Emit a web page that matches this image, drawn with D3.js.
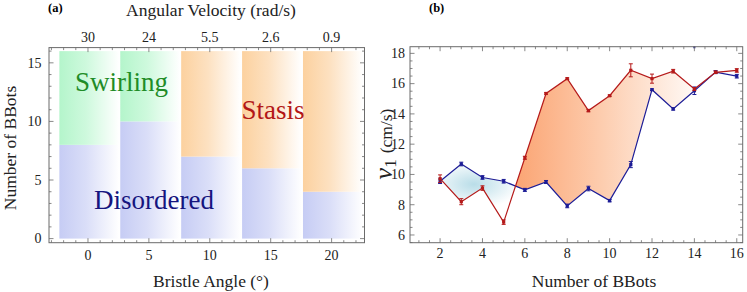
<!DOCTYPE html>
<meta charset="utf-8">
<style>
body { margin: 0; background: #fff; }
svg, svg text { font-family: "Liberation Serif", "Times New Roman", Times, "DejaVu Serif", serif; }
.frame { fill: none; stroke: #6b6b6b; stroke-width: 1; }
.tick { stroke: #6b6b6b; stroke-width: 0.8; }
.ticklab { font-size: 14px; fill: #222; }
.axlab { font-size: 17.5px; fill: #222; }
</style>
<body>
<script src="https://d3js.org/d3.v7.min.js"></script>
<script>

// ---- panel (a) data ----
var bristleAngles = [0, 5, 10, 15, 20];
var angVelLabels = ["30", "24", "5.5", "2.6", "0.9"];
var disorderTop = [8, 10, 7, 6, 4];      // disordered phase up to
var upperPhase = ["swirl", "swirl", "stasis", "stasis", "stasis"];
var phaseMax = 16;

// ---- panel (b) data ----
var nBots = [2, 3, 4, 5, 6, 7, 8, 9, 10, 11, 12, 13, 14, 15, 16];
var redV   = [9.72, 8.2, 9.1, 6.85, 11.1, 15.35, 16.33, 14.22, 15.2, 16.88, 16.33, 16.82, 15.64, 16.75, 16.87];
var redErr = [0.25, 0.2, 0.15, 0.15, 0.1, 0.05, 0.05, 0.08, 0.05, 0.43, 0.3, 0.12, 0.1, 0.08, 0.12];
var blueV   = [9.55, 10.69, 9.8, 9.55, 8.98, 9.5, 7.92, 9.07, 8.27, 10.65, 15.6, 14.33, 15.53, 16.76, 16.49];
var blueErr = [0.15, 0.12, 0.12, 0.12, 0.1, 0.1, 0.12, 0.15, 0.08, 0.2, 0.05, 0.08, 0.25, 0.1, 0.12];
var blueStray = [{n: 14, v: 18.4}];

var svg = d3.select("body").append("svg")
    .attr("width", 747)
    .attr("height", 292)
    .attr("font-family", "Liberation Serif, Times New Roman, DejaVu Serif, serif");
var defs = svg.append("defs");

function fade(id, col) {
  var g = defs.append("linearGradient").attr("id", id)
      .attr("x1", 0).attr("x2", 1).attr("y1", 0).attr("y2", 0);
  g.append("stop").attr("offset", 0).attr("stop-color", col);
  g.append("stop").attr("offset", 0.45).attr("stop-color", d3.interpolateRgb(col, "#fff")(0.35));
  g.append("stop").attr("offset", 1).attr("stop-color", "#fff");
}
fade("gSwirl", "#b4f5cb");
fade("gDis", "#c6ccf4");
fade("gStasis", "#fcd19f");

// draw ticks on a side of a frame
function ticks(g, scale, vals, len, side, other) {
  vals.forEach(function(v) {
    var p = scale(v);
    var l = g.append("line").attr("class", "tick");
    if (side == "bottom") l.attr("x1", p).attr("x2", p).attr("y1", other).attr("y2", other - len);
    if (side == "top") l.attr("x1", p).attr("x2", p).attr("y1", other).attr("y2", other + len);
    if (side == "left") l.attr("y1", p).attr("y2", p).attr("x1", other).attr("x2", other + len);
    if (side == "right") l.attr("y1", p).attr("y2", p).attr("x1", other).attr("x2", other - len);
  });
}

// ================= panel (a) =================
var xa = d3.scaleLinear().domain([-3.2, 22.7]).range([49, 364.5]);
var ya = d3.scaleLinear().domain([-0.35, 16.3]).range([242.7, 47.6]);
var ga = svg.append("g");

bristleAngles.forEach(function(a, i) {
  var x0 = xa(a - 2.35), x1 = xa(a + 2.55);
  ga.append("rect").attr("x", x0).attr("width", x1 - x0)
    .attr("y", ya(disorderTop[i])).attr("height", ya(0) - ya(disorderTop[i]))
    .attr("fill", "url(#gDis)");
  ga.append("rect").attr("x", x0).attr("width", x1 - x0)
    .attr("y", ya(phaseMax)).attr("height", ya(disorderTop[i]) - ya(phaseMax))
    .attr("fill", upperPhase[i] == "swirl" ? "url(#gSwirl)" : "url(#gStasis)");
});

ga.append("text").attr("x", 75).attr("y", 90.5).style("font-size", "27px")
  .attr("fill", "#1f8c27").text("Swirling");
ga.append("text").attr("x", 241.5).attr("y", 119.3).style("font-size", "27px")
  .attr("fill", "#b31717").text("Stasis");
ga.append("text").attr("x", 94).attr("y", 209.3).style("font-size", "27px")
  .attr("fill", "#15157f").text("Disordered");

ga.append("rect").attr("class", "frame")
  .attr("x", xa.range()[0]).attr("y", ya.range()[1])
  .attr("width", xa.range()[1] - xa.range()[0]).attr("height", ya.range()[0] - ya.range()[1]);

var xaMinor = d3.range(-3, 23, 1).filter(function(v) { return v % 5 != 0; });
var yaMinor = d3.range(0, 17, 1).filter(function(v) { return v % 5 != 0; });
ticks(ga, xa, bristleAngles, 4.5, "bottom", ya.range()[0]);
ticks(ga, xa, xaMinor, 2.5, "bottom", ya.range()[0]);
ticks(ga, xa, bristleAngles, 4.5, "top", ya.range()[1]);
ticks(ga, xa, xaMinor, 2.5, "top", ya.range()[1]);
ticks(ga, ya, [0, 5, 10, 15], 4.5, "left", xa.range()[0]);
ticks(ga, ya, yaMinor, 2.5, "left", xa.range()[0]);
ticks(ga, ya, [0, 5, 10, 15], 4.5, "right", xa.range()[1]);
ticks(ga, ya, yaMinor, 2.5, "right", xa.range()[1]);

ga.selectAll(".xlab").data(bristleAngles).enter().append("text")
  .attr("class", "ticklab").attr("text-anchor", "middle")
  .attr("x", function(d) { return xa(d); }).attr("y", 260)
  .text(function(d) { return d; });
ga.selectAll(".toplab").data(bristleAngles).enter().append("text")
  .attr("class", "ticklab").attr("text-anchor", "middle")
  .attr("x", function(d) { return xa(d); }).attr("y", 41.5)
  .text(function(d, i) { return angVelLabels[i]; });
ga.selectAll(".ylab").data([0, 5, 10, 15]).enter().append("text")
  .attr("class", "ticklab").attr("text-anchor", "end")
  .attr("x", 41.5).attr("y", function(d) { return ya(d) + 4.8; })
  .text(function(d) { return d; });

ga.append("text").attr("class", "axlab").attr("text-anchor", "middle")
  .attr("x", 211).attr("y", 15.6).text("Angular Velocity (rad/s)");
ga.append("text").attr("class", "axlab").attr("text-anchor", "middle")
  .attr("x", 211).attr("y", 287).text("Bristle Angle (°)");
ga.append("text").attr("class", "axlab").attr("text-anchor", "middle")
  .attr("transform", "translate(15.8,148) rotate(-90)").text("Number of BBots");
ga.append("text").attr("x", 48).attr("y", 12).style("font-size", "12.5px")
  .style("font-weight", "bold").text("(a)");

// ================= panel (b) =================
var xb = d3.scaleLinear().domain([0.58, 16.28]).range([410, 742.7]);
var yb = d3.scaleLinear().domain([5.49, 18.44]).range([242.7, 46.7]);
var gb = svg.append("g");

var og = defs.append("linearGradient").attr("id", "gOrange")
    .attr("gradientUnits", "userSpaceOnUse")
    .attr("x1", xb(5.6)).attr("x2", xb(14.6)).attr("y1", 0).attr("y2", 0);
og.append("stop").attr("offset", 0).attr("stop-color", "#fba574");
og.append("stop").attr("offset", 0.45).attr("stop-color", "#fdcdaf");
og.append("stop").attr("offset", 1).attr("stop-color", "#ffffff");

var bg = defs.append("radialGradient").attr("id", "gTeal")
    .attr("gradientUnits", "userSpaceOnUse")
    .attr("cx", xb(3.6)).attr("cy", yb(9.35)).attr("r", 48)
    .attr("gradientTransform", "translate(" + xb(3.6) + "," + yb(9.35) + ") scale(1,0.5) translate(" + (-xb(3.6)) + "," + (-yb(9.35)) + ")");
bg.append("stop").attr("offset", 0).attr("stop-color", "#b9dde8");
bg.append("stop").attr("offset", 1).attr("stop-color", "#ffffff");

var pts = nBots.map(function(n, i) { return {n: n, r: redV[i], b: blueV[i]}; });

// clip regions above / below the blue curve
defs.append("clipPath").attr("id", "aboveBlue").append("path")
  .attr("d", d3.area().x(function(d) { return xb(d.n); })
    .y0(function(d) { return yb(d.b); }).y1(0)(pts));
defs.append("clipPath").attr("id", "belowBlue").append("path")
  .attr("d", d3.area().x(function(d) { return xb(d.n); })
    .y0(function(d) { return yb(d.b); }).y1(300)(pts));

var between = d3.area().x(function(d) { return xb(d.n); })
    .y0(function(d) { return yb(d.b); })
    .y1(function(d) { return yb(d.r); });
gb.append("path").attr("d", between(pts)).attr("fill", "url(#gOrange)")
  .attr("clip-path", "url(#aboveBlue)");
gb.append("path").attr("d", between(pts)).attr("fill", "url(#gTeal)")
  .attr("clip-path", "url(#belowBlue)");

function series(vals, errs, col) {
  var line = d3.line().x(function(d, i) { return xb(nBots[i]); })
      .y(function(d) { return yb(d); });
  gb.append("path").attr("d", line(vals)).attr("fill", "none")
    .attr("stroke", col).attr("stroke-width", 1.2);
  vals.forEach(function(v, i) {
    var x = xb(nBots[i]), lo = yb(v - errs[i]), hi = yb(v + errs[i]);
    gb.append("line").attr("x1", x).attr("x2", x).attr("y1", lo).attr("y2", hi)
      .attr("stroke", col).attr("stroke-width", 1);
    [lo, hi].forEach(function(yy) {
      gb.append("line").attr("x1", x - 2).attr("x2", x + 2).attr("y1", yy).attr("y2", yy)
        .attr("stroke", col).attr("stroke-width", 1);
    });
    gb.append("rect").attr("x", x - 1.6).attr("y", yb(v) - 1.6)
      .attr("width", 3.2).attr("height", 3.2).attr("fill", col);
  });
}
series(blueV, blueErr, "#1c1c96");
series(redV, redErr, "#b51a1a");
blueStray.forEach(function(d) {
  gb.append("rect").attr("x", xb(d.n) - 1).attr("y", yb(d.v) - 1)
    .attr("width", 2).attr("height", 2).attr("fill", "#1c1c96");
});

gb.append("rect").attr("class", "frame")
  .attr("x", xb.range()[0]).attr("y", yb.range()[1])
  .attr("width", xb.range()[1] - xb.range()[0]).attr("height", yb.range()[0] - yb.range()[1]);

var xbMajor = d3.range(2, 17, 2);
var xbMinor = d3.range(1, 16.3, 0.5).filter(function(v) { return v % 2 != 0; });
var ybMajor = d3.range(6, 19, 2);
var ybMinor = d3.range(5.5, 18.45, 0.5).filter(function(v) { return v % 2 != 0; });
ticks(gb, xb, xbMajor, 4.5, "bottom", yb.range()[0]);
ticks(gb, xb, xbMinor, 2.5, "bottom", yb.range()[0]);
ticks(gb, xb, xbMajor, 4.5, "top", yb.range()[1]);
ticks(gb, xb, xbMinor, 2.5, "top", yb.range()[1]);
ticks(gb, yb, ybMajor, 4.5, "left", xb.range()[0]);
ticks(gb, yb, ybMinor, 2.5, "left", xb.range()[0]);
ticks(gb, yb, ybMajor, 4.5, "right", xb.range()[1]);
ticks(gb, yb, ybMinor, 2.5, "right", xb.range()[1]);

gb.selectAll(".xlab").data(xbMajor).enter().append("text")
  .attr("class", "ticklab").attr("text-anchor", "middle")
  .attr("x", function(d) { return xb(d); }).attr("y", 258)
  .text(function(d) { return d; });
gb.selectAll(".ylab").data(ybMajor).enter().append("text")
  .attr("class", "ticklab").attr("text-anchor", "end")
  .attr("x", 405).attr("y", function(d) { return yb(d) + 4.8; })
  .text(function(d) { return d; });

gb.append("text").attr("class", "axlab").attr("text-anchor", "middle")
  .attr("x", 594).attr("y", 287).text("Number of BBots");
var yl = gb.append("text").attr("class", "axlab").attr("text-anchor", "middle")
  .attr("transform", "translate(392,144) rotate(-90)");
yl.append("tspan").style("font-size", "26px").style("font-style", "italic").text("v");
yl.append("tspan").style("font-size", "17px").attr("dy", 4).text("1");
yl.append("tspan").attr("dy", -4).attr("dx", 6).text("(cm/s)");
gb.append("text").attr("x", 429).attr("y", 12).style("font-size", "12.5px")
  .style("font-weight", "bold").text("(b)");

</script>
</body>
